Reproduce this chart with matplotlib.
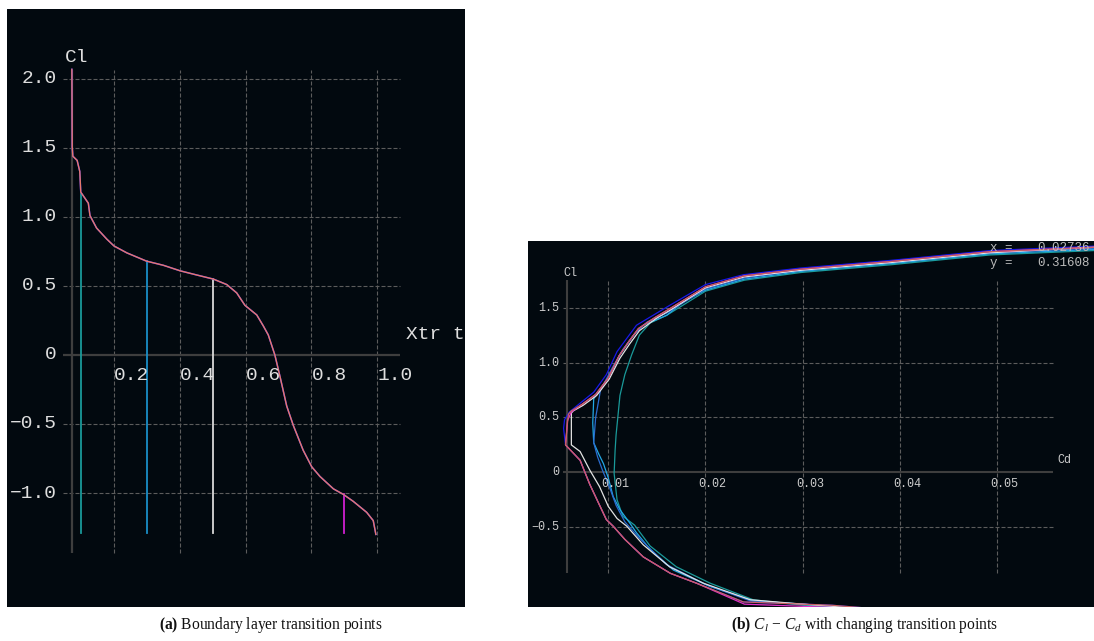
import matplotlib.pyplot as plt

plt.rcParams['mathtext.fontset'] = 'custom'
plt.rcParams['mathtext.rm'] = 'Liberation Serif'
plt.rcParams['mathtext.it'] = 'Liberation Serif:italic'
plt.rcParams['mathtext.bf'] = 'Liberation Serif:bold'

BG = '#02090f'
GRID = '#5c5c5c'
AXIS = '#3e3e3e'
TXT = '#dedede'
MONO = 'Liberation Mono'

# ---- (a) Cl vs top transition point ----
xtr_top = [0.072, 0.073, 0.075, 0.088, 0.096, 0.099, 0.122, 0.127, 0.147, 0.178,
           0.200, 0.239, 0.299, 0.350, 0.401, 0.451, 0.502, 0.543, 0.573, 0.598,
           0.634, 0.654, 0.669, 0.689, 0.705, 0.725, 0.745, 0.775, 0.801, 0.826,
           0.867, 0.897, 0.927, 0.968, 0.988, 0.996]
cl_xtr = [2.07, 1.51, 1.44, 1.41, 1.33, 1.18, 1.10, 1.01, 0.92, 0.84,
          0.79, 0.74, 0.68, 0.65, 0.61, 0.58, 0.55, 0.51, 0.45, 0.36,
          0.29, 0.21, 0.145, 0.0, -0.16, -0.37, -0.51, -0.69, -0.81, -0.88,
          -0.97, -1.01, -1.06, -1.14, -1.20, -1.30]
marker_xtr = [0.100, 0.300, 0.501, 0.899]
marker_cl = [1.17, 0.68, 0.55, -1.01]
marker_colors = ['#1a9a9a', '#1a8fc8', '#d8d8d8', '#d020d0']
marker_bottom = -1.29

xtr_ticks = [0.2, 0.4, 0.6, 0.8, 1.0]
xtr_labels = ['0.2', '0.4', '0.6', '0.8', '1.0']
cl_ticks_a = [2.0, 1.5, 1.0, 0.5, 0.0, -0.5, -1.0]
cl_labels_a = ['2.0', '1.5', '1.0', '0.5', '0', '\u22120.5', '\u22121.0']

# ---- (b) Cl - Cd polars for several transition settings ----
cd_blue = [0.0400, 0.0330, 0.0239, 0.0191, 0.0164, 0.0136, 0.0117, 0.0105, 0.0098,
           0.0090, 0.0081, 0.0071, 0.0056, 0.0054, 0.0055, 0.0060, 0.0071, 0.0085,
           0.0098, 0.0109, 0.0119, 0.0129, 0.0146, 0.0163, 0.0200, 0.0239, 0.0297,
           0.0390, 0.0493, 0.0600]
cl_blue = [-1.26, -1.21, -1.18, -1.01, -0.92, -0.77, -0.61, -0.49, -0.43,
           -0.28, -0.11, 0.11, 0.25, 0.40, 0.48, 0.55, 0.63, 0.73,
           0.89, 1.10, 1.22, 1.34, 1.43, 1.52, 1.71, 1.80, 1.86,
           1.93, 2.02, 2.06]

cd_magenta = [0.0400, 0.0330, 0.0240, 0.0191, 0.0164, 0.0136, 0.0117, 0.0105, 0.0098,
              0.0090, 0.0081, 0.0071, 0.0056, 0.0058, 0.0062, 0.0073, 0.0087, 0.0100,
              0.0111, 0.0121, 0.0131, 0.0148, 0.0165, 0.0200, 0.0240, 0.0298, 0.0390,
              0.0493, 0.0600]
cl_magenta = [-1.27, -1.23, -1.20, -1.01, -0.92, -0.77, -0.61, -0.49, -0.43,
              -0.28, -0.11, 0.11, 0.25, 0.47, 0.55, 0.62, 0.71, 0.86,
              1.06, 1.19, 1.31, 1.41, 1.50, 1.69, 1.79, 1.85, 1.92,
              2.01, 2.05]

cd_red = [0.0400, 0.0330, 0.0239, 0.0191, 0.0164, 0.0136, 0.0117, 0.0105, 0.0098,
          0.0090, 0.0081, 0.0071, 0.0056, 0.0058, 0.0059, 0.0062, 0.0073, 0.0087,
          0.0100, 0.0111, 0.0121, 0.0131, 0.0148, 0.0165, 0.0200, 0.0240, 0.0298,
          0.0390, 0.0493, 0.0600]
cl_red = [-1.26, -1.21, -1.18, -1.01, -0.92, -0.77, -0.61, -0.49, -0.43,
          -0.28, -0.11, 0.11, 0.25, 0.45, 0.53, 0.56, 0.62, 0.71,
          0.86, 1.06, 1.19, 1.31, 1.41, 1.50, 1.69, 1.79, 1.85,
          1.92, 2.01, 2.05]

cd_white = [0.0360, 0.0300, 0.0246, 0.0198, 0.0163, 0.0136, 0.0119, 0.0109, 0.0100,
            0.0091, 0.0081, 0.0071, 0.0062, 0.0062, 0.0064, 0.0074, 0.0088, 0.0101,
            0.0112, 0.0122, 0.0132, 0.0149, 0.0166, 0.0200, 0.0240, 0.0298, 0.0390,
            0.0493, 0.0600]
cl_white = [-1.24, -1.20, -1.16, -1.01, -0.86, -0.66, -0.49, -0.42, -0.31,
            -0.13, 0.02, 0.19, 0.25, 0.54, 0.56, 0.61, 0.70, 0.85,
            1.04, 1.17, 1.29, 1.40, 1.49, 1.68, 1.78, 1.84, 1.91,
            2.00, 2.05]

cd_mid = [0.0360, 0.0300, 0.0246, 0.0200, 0.0160, 0.0132, 0.0117, 0.0108, 0.0101,
          0.0094, 0.0089, 0.0085, 0.0087, 0.0092, 0.0104, 0.0115, 0.0128, 0.0140,
          0.0160, 0.0200, 0.0240, 0.0298, 0.0390, 0.0493, 0.0600]
cl_mid = [-1.24, -1.20, -1.17, -1.02, -0.84, -0.60, -0.45, -0.30, -0.13,
          0.02, 0.14, 0.27, 0.50, 0.75, 0.95, 1.12, 1.27, 1.37,
          1.45, 1.67, 1.77, 1.84, 1.91, 2.00, 2.04]

cd_light = [0.0360, 0.0300, 0.0249, 0.0205, 0.0167, 0.0143, 0.0129, 0.0122, 0.0112,
            0.0105, 0.0100, 0.0095, 0.0090, 0.0085, 0.0084, 0.0085, 0.0102, 0.0112,
            0.0126, 0.0136, 0.0160, 0.0177, 0.0200, 0.0240, 0.0298, 0.0390, 0.0493,
            0.0600]
cl_light = [-1.24, -1.20, -1.17, -1.04, -0.89, -0.70, -0.55, -0.46, -0.34,
            -0.22, -0.05, 0.08, 0.17, 0.27, 0.45, 0.67, 0.89, 1.07,
            1.25, 1.34, 1.43, 1.55, 1.66, 1.76, 1.83, 1.90, 1.99,
            2.03]

cd_teal = [0.0360, 0.0300, 0.0249, 0.0205, 0.0170, 0.0143, 0.0127, 0.0115, 0.0109,
           0.0106, 0.0107, 0.0108, 0.0112, 0.0117, 0.0124, 0.0132, 0.0143, 0.0160,
           0.0200, 0.0240, 0.0298, 0.0390, 0.0493, 0.0600]
cl_teal = [-1.25, -1.21, -1.16, -1.01, -0.86, -0.67, -0.48, -0.40, -0.25,
           -0.01, 0.20, 0.34, 0.70, 0.89, 1.07, 1.25, 1.36, 1.43,
           1.65, 1.75, 1.82, 1.89, 1.98, 2.02]

# drawn in this order, later ones on top
polars = [
    (cd_blue, cl_blue, '#1818e8'),
    (cd_teal, cl_teal, '#1a9a9a'),
    (cd_light, cl_light, '#22a8e6'),
    (cd_mid, cl_mid, '#2a6cd0'),
    (cd_white, cl_white, '#e2e2e2'),
    (cd_magenta, cl_magenta, '#e030c8'),
    (cd_red, cl_red, '#c86262'),
]

cd_ticks = [0.01, 0.02, 0.03, 0.04, 0.05]
cd_labels = ['0.01', '0.02', '0.03', '0.04', '0.05']
cl_ticks_b = [1.5, 1.0, 0.5, 0.0, -0.5]
cl_labels_b = ['1.5', '1.0', '0.5', '0', '\u22120.5']
cursor_x = 0.02736
cursor_y = 0.31608


def frame(ax, xticks, yticks, xspan, yspan, y_axis_at, lw_axis):
    for y in yticks:
        if y == 0:
            continue
        ax.plot(xspan, [y, y], color=GRID, lw=0.8, dashes=(3.6, 1.8), zorder=1)
    for x in xticks:
        ax.plot([x, x], yspan, color=GRID, lw=0.8, dashes=(3.6, 1.8), zorder=1)
    ax.plot(xspan, [0, 0], color=AXIS, lw=lw_axis, zorder=2, solid_capstyle='butt')
    ax.plot([y_axis_at, y_axis_at], yspan, color=AXIS, lw=lw_axis, zorder=2,
            solid_capstyle='butt')


fig = plt.figure(figsize=(10.94, 6.41), dpi=100)
fig.patch.set_facecolor('white')
W, H = 1094, 641

# ---------- panel (a) ----------
ax = fig.add_axes([7 / W, 34 / H, 458 / W, 598 / H])
ax.set_facecolor(BG)
ax.set_xlim(-0.1252, 1.2669)
ax.set_ylim(-1.826, 2.507)
ax.set_axis_off()
ax.add_patch(plt.Rectangle((0, 0), 1, 1, transform=ax.transAxes, color=BG, zorder=0))

frame(ax, xtr_ticks, cl_ticks_a, [0.045, 1.069], [-1.435, 2.065], 0.0723, 1.6)

for x, c, col in zip(marker_xtr, marker_cl, marker_colors):
    ax.plot([x, x], [marker_bottom, c], color=col, lw=1.3, zorder=3)

ax.plot(xtr_top, cl_xtr, color='#3a30ff', lw=1.1, zorder=4)
ax.plot(xtr_top, cl_xtr, color='#e8786a', lw=1.0, zorder=5)

for y, lab in zip(cl_ticks_a, cl_labels_a):
    ax.text(0.0267, y, lab, color=TXT, family=MONO, fontsize=14,
            ha='right', va='center', clip_on=True)
for x, lab in zip(xtr_ticks, xtr_labels):
    ax.text(x, -0.145, lab, color=TXT, family=MONO, fontsize=14,
            ha='left', va='center', zorder=6)
ax.text(0.051, 2.152, 'Cl', color=TXT, family=MONO, fontsize=14, ha='left', va='center')
ax.text(1.0875, 0.145, 'Xtr top', color=TXT, family=MONO, fontsize=14,
        ha='left', va='center', clip_on=True)

# ---------- panel (b) ----------
bx = fig.add_axes([528 / W, 34 / H, 566 / W, 366 / H])
bx.set_facecolor(BG)
bx.set_xlim(0.001739, 0.05997)
bx.set_ylim(-1.226, 2.107)
bx.set_axis_off()
bx.add_patch(plt.Rectangle((0, 0), 1, 1, transform=bx.transAxes, color=BG, zorder=0))

frame(bx, cd_ticks, cl_ticks_b, [0.00533, 0.05576], [-0.919, 1.75], 0.00578, 1.5)

for cd, cl, col in polars:
    bx.plot(cd, cl, color=col, lw=0.9, zorder=4)

for y, lab in zip(cl_ticks_b, cl_labels_b):
    bx.text(0.00497, y, lab, color='#cccccc', family=MONO, fontsize=8.5,
            ha='right', va='center')
for x, lab in zip(cd_ticks, cd_labels):
    bx.text(x - 0.0007, -0.106, lab, color='#cccccc', family=MONO, fontsize=8.5,
            ha='left', va='center', zorder=6)
bx.text(0.00533, 1.82, 'Cl', color='#cccccc', family=MONO, fontsize=8.5, ha='left', va='center')
bx.text(0.0562, 0.113, 'Cd', color='#cccccc', family=MONO, fontsize=8.5, ha='left', va='center')

bx.text(0.04927, 2.041, 'x =', color='#bbbbbb', family=MONO, fontsize=9, ha='left', va='center', zorder=6)
bx.text(0.05955, 2.041, f'{cursor_x:.5f}', color='#bbbbbb', family=MONO, fontsize=9,
        ha='right', va='center', zorder=6)
bx.text(0.04927, 1.904, 'y =', color='#bbbbbb', family=MONO, fontsize=9, ha='left', va='center', zorder=6)
bx.text(0.05955, 1.904, f'{cursor_y:.5f}', color='#bbbbbb', family=MONO, fontsize=9,
        ha='right', va='center', zorder=6)

# ---------- captions ----------
fig.text(271 / W, 16 / H, r'$\mathbf{(a)}$ Boundary layer transition points',
         family='Liberation Serif', fontsize=11.2, ha='center', va='center', color='#111111')
fig.text(864 / W, 16 / H, r'$\mathbf{(b)}$ $C_l$ $-$ $C_d$ with changing transition points',
         family='Liberation Serif', fontsize=11.2, ha='center', va='center', color='#111111')

fig.savefig('out.png', dpi=100, facecolor='white')
